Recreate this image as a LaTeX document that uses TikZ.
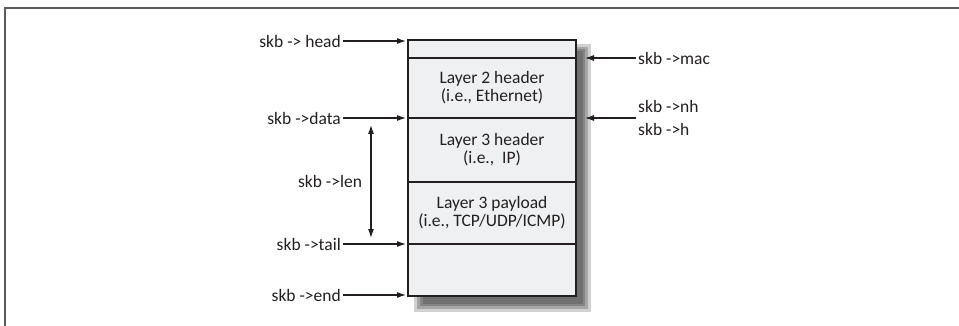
\documentclass[tikz,border=0pt]{standalone}
\usepackage{fontspec}
\setmainfont{Carlito}
\usetikzlibrary{positioning,arrows.meta}

\definecolor{boxfill}{RGB}{238,240,242}
\definecolor{inkgray}{RGB}{35,31,32}
\definecolor{framegray}{RGB}{90,90,90}

\begin{document}
\begin{tikzpicture}[x=1pt,y=-1pt,
  font=\fontsize{17.5}{18}\selectfont, text=inkgray,
  part/.style={draw=inkgray, fill=boxfill, line width=1.1pt, minimum width=168pt,
    inner sep=0pt, outer sep=0pt, align=center},
  lbl/.style={inner sep=2pt},
  ptr/.style={-{Latex[length=9pt,width=6pt]}, line width=1.1pt, draw=inkgray},
  dptr/.style={{Latex[length=9pt,width=6pt]}-{Latex[length=9pt,width=6pt]}, line width=1.1pt, draw=inkgray}]
  \useasboundingbox (0,0) rectangle (959,326);
  % frame
  \draw[framegray, line width=1.5pt] (5,326) -- (5,8) -- (959,8);
  % shadow
  \fill[black!18] (414,44) rectangle (591,312);
  \fill[black!35] (417,47) rectangle (588,309);
  \fill[black!48] (420,49) rectangle (585,306);
  \fill[black!56] (423,51) rectangle (583,304);
  % buffer
  \node[part, minimum height=18pt, anchor=north west] (top) at (408,40) {};
  \node[part, minimum height=60pt, below=0pt of top] (l2) {Layer 2 header\\(i.e., Ethernet)};
  \node[part, minimum height=64pt, below=0pt of l2] (l3) {Layer 3 header\\(i.e.,\ \ IP)};
  \node[part, minimum height=62pt, below=0pt of l3] (pay) {Layer 3 payload\\(i.e., TCP/UDP/ICMP)};
  \node[part, minimum height=52pt, below=0pt of pay] (tailroom) {};
  % left pointers
  \node[lbl, anchor=east] (head) at (343,41) {skb -> head};
  \node[lbl, anchor=east] (data) at (343,118) {skb ->data};
  \node[lbl, anchor=east] (tail) at (343,244) {skb ->tail};
  \node[lbl, anchor=east] (end) at (343,295) {skb ->end};
  \node[lbl] (len) at (330,181) {skb ->len};
  \draw[ptr, shorten >=2pt] (head.east) -- (head.east -| top.west);
  \draw[ptr, shorten >=2pt] (data.east) -- (l3.north west);
  \draw[ptr, shorten >=2pt] (tail.east) -- (tailroom.north west);
  \draw[ptr, shorten >=2pt] (end.east) -- (end.east -| tailroom.west);
  \coordinate (lenA) at (371,125);
  \coordinate (lenB) at (371,238);
  \draw[dptr] (lenA) -- (lenB);
  % right pointers
  \node[lbl, anchor=west] (mac) at (636,58) {skb ->mac};
  \node[lbl, anchor=west, align=left] (nh) at (636,118) {skb ->nh\\[5pt]skb ->h};
  \draw[ptr] (mac.west) -- ([xshift=9pt]mac.west -| top.east);
  \draw[ptr] (mac.west |- l3.north) -- ([xshift=9pt]l3.north east);
\end{tikzpicture}
\end{document}
